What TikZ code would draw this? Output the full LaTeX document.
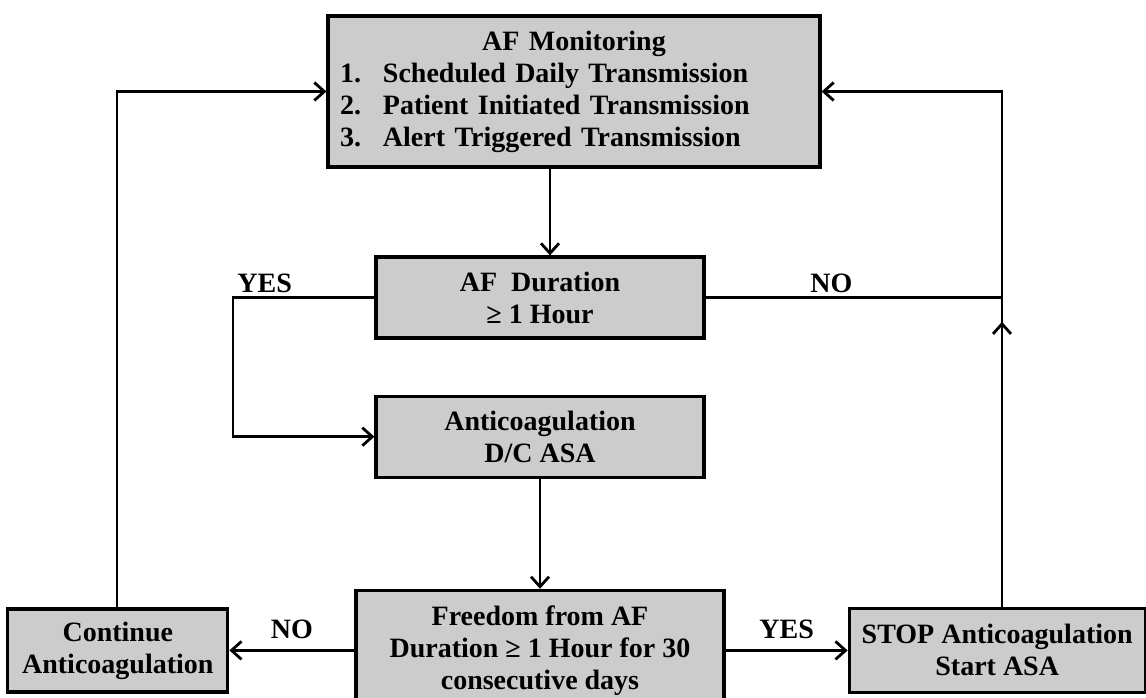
\documentclass[tikz,border=0pt]{standalone}
\usepackage{fontspec}
\setmainfont{Liberation Serif}
\usetikzlibrary{arrows.meta,positioning}

\begin{document}
\begin{tikzpicture}[
  x=0.5pt,y=-0.5pt,
  font=\fontsize{14}{16}\selectfont\bfseries,
  box/.style={draw,line width=1.6pt,fill=black!20,align=center,inner sep=2pt},
  link/.style={line width=1.4pt,-{Straight Barb[length=5pt,width=9pt]}},
  lbl/.style={inner sep=2pt}
]
\useasboundingbox (0,0) rectangle (1146,697);
\node[box,text width=234pt,align=left,inner xsep=6pt,minimum height=75.5pt] (Mon) at (574,91.5) {\makebox[234pt]{AF Monitoring}\\\makebox[21.5pt][l]{1.}Scheduled Daily Transmission\\\makebox[21.5pt][l]{2.}Patient Initiated Transmission\\\makebox[21.5pt][l]{3.}Alert Triggered Transmission};
\node[box,minimum width=164pt,minimum height=40.5pt] (Dur) at (540,297.5) {AF\ \ Duration\\≥ 1 Hour};
\node[box,minimum width=164pt,minimum height=40.5pt,below=27.5pt of Dur] (Anti) {Anticoagulation\\D/C ASA};
\node[box,minimum width=184pt,minimum height=60pt,below=55pt of Anti] (Free) {Freedom from AF\\Duration ≥ 1 Hour for 30\\consecutive days};
\node[box,minimum width=110pt,minimum height=41.5pt,left=62.5pt of Free] (Cont) {Continue\\Anticoagulation};
\node[box,minimum width=148pt,minimum height=42pt,right=61pt of Free] (Stop) {STOP Anticoagulation\\Start ASA};

\coordinate (P1) at (550,0);
\coordinate (P2) at (233,0);
\coordinate (P3) at (1002,0);
\coordinate (P4) at (117,0);
\coordinate (P5) at (806,0);

\draw[link] (P1 |- Mon.south) -- (P1 |- Dur.north);
\draw[link] (Dur.west) -- (Dur.west -| P2) |- (Anti.west);
\node[lbl,anchor=south west] (Yes1) at (Dur.west -| P2) {YES};
\draw[line width=1.4pt] (Dur.east) -- (Dur.east -| P3);
\node[lbl,anchor=south west] (No1) at (Dur.east -| P5) {NO};
\draw[link] (Anti.south) -- (Free.north);
\draw[link] (Free.west) -- (Cont.east) node[lbl,midway,above,yshift=3pt] (No2) {NO};
\draw[link] (Free.east) -- (Stop.west) node[lbl,midway,above,yshift=3pt] (Yes2) {YES};
\draw[link] (P3 |- Stop.north) |- (Mon.east);
\draw[link] (P3 |- Stop.north) -- ++(0,-285);
\draw[link] (P4 |- Cont.north) |- (Mon.west);
\end{tikzpicture}
\end{document}
